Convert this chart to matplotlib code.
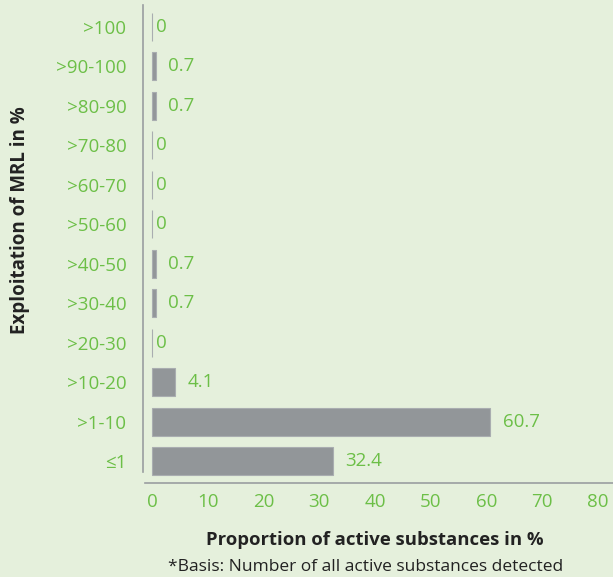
import matplotlib.pyplot as plt
import numpy as np

plt.rcParams['font.family'] = ['Open Sans', 'DejaVu Sans']

# data, bottom to top
categories = ['≤1', '>1-10', '>10-20', '>20-30', '>30-40', '>40-50',
              '>50-60', '>60-70', '>70-80', '>80-90', '>90-100', '>100']
shares = [32.4, 60.7, 4.1, 0, 0.7, 0.7, 0, 0, 0, 0.7, 0.7, 0]
x_ticks = [0, 10, 20, 30, 40, 50, 60, 70, 80]

bg = '#e5f0dc'
green = '#6cbf47'
bar_grey = '#929699'
dark = '#222222'

W, H = 613, 577
fig = plt.figure(figsize=(W / 100, H / 100), dpi=100, facecolor=bg)
# axes box in pixels: left spine at 143, top 5, bottom spine 483, right edge 613
ax = fig.add_axes([143 / W, 1 - 483 / H, (613 - 143) / W, (483 - 5) / H])
ax.set_facecolor(bg)

y = np.arange(len(categories))
ax.barh(y, shares, height=0.71, color=bar_grey, edgecolor='#a9adb0', linewidth=0.8)

for yi, v in zip(y, shares):
    label = '0' if v == 0 else f'{v:g}'
    ax.annotate(label, (v, yi), xytext=(3 if v == 0 else 9, 0), textcoords='offset points',
                va='center', ha='left', color=green, fontsize=13.5)

ax.set_xlim(-1.61, 82.7)
ax.set_ylim(-0.558, 11.558)
ax.set_xticks(x_ticks)
ax.set_xticklabels([str(t) for t in x_ticks])
ax.set_yticks(y)
ax.set_yticklabels(categories)
ax.tick_params(axis='both', length=0, colors=green, labelsize=13.5)
ax.tick_params(axis='x', pad=7)
ax.tick_params(axis='y', pad=12)

for s in ['top', 'right']:
    ax.spines[s].set_visible(False)
ax.spines['left'].set_color('#9a9ea1')
ax.spines['bottom'].set_color('#9a9ea1')
ax.spines['left'].set_linewidth(1.2)
ax.spines['bottom'].set_linewidth(1.2)
ax.spines['left'].set_bounds(-0.28, 11.558)
ax.spines['bottom'].set_bounds(-1.26, 82.7)

fig.text(375 / W, 1 - 540 / H, 'Proportion of active substances in %', ha='center', va='center',
         fontsize=13.3, fontweight='bold', color=dark)
fig.text(366 / W, 1 - 567 / H, '*Basis: Number of all active substances detected', ha='center',
         va='center', fontsize=12.5, color=dark)
fig.text(20 / W, 1 - 220 / H, 'Exploitation of MRL in %', ha='center', va='center', rotation=90,
         fontsize=13.5, fontweight='bold', color=dark)

fig.savefig('out.png', dpi=100, facecolor=bg)
